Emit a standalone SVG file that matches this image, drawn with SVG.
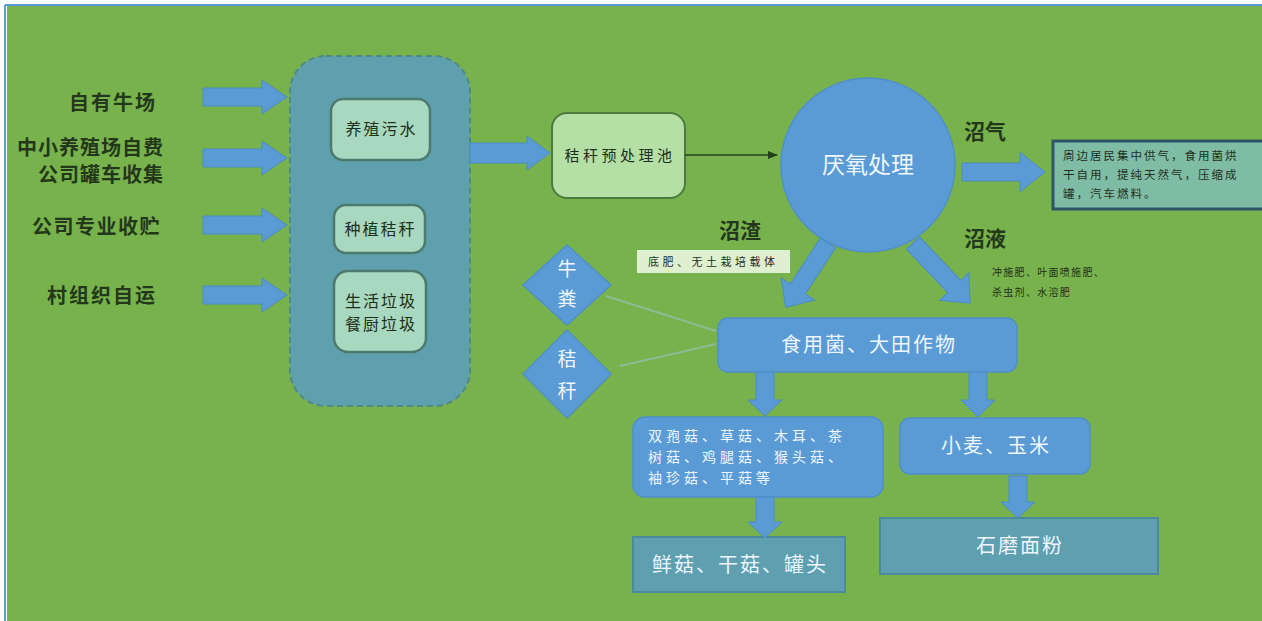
<svg xmlns="http://www.w3.org/2000/svg" width="1262" height="621" viewBox="0 0 1262 621">
<defs>
<style>
.lbl{font-family:"Noto Sans CJK SC","Noto Sans",sans-serif;fill:#23381a;font-weight:bold}
.wt{font-family:"Noto Sans CJK SC","Noto Sans",sans-serif;fill:#eef6ff}
.dk{font-family:"Noto Sans CJK SC","Noto Sans",sans-serif;fill:#1f2f1a}
.arr{fill:#5b9bd5;stroke:#4a8cc6;stroke-width:1}
.blue{fill:#5b9bd5;stroke:#4f8fcb;stroke-width:1.5}
.teal{fill:#5e9fb0;stroke:#4a8a9a;stroke-width:2}
.inner{fill:#a8d8c0;stroke:#4d7a6c;stroke-width:2.5}
</style>
<marker id="ah" markerWidth="10" markerHeight="10" refX="9" refY="5" orient="auto" markerUnits="userSpaceOnUse">
<path d="M0,1 L10,5 L0,9 Z" fill="#24401c"/>
</marker>
</defs>
<rect x="0" y="0" width="1262" height="621" fill="#ffffff"/>
<rect x="7" y="6" width="1255" height="615" fill="#78b24c"/>
<line x1="5" y1="5" x2="1262" y2="5" stroke="#5b9bd5" stroke-width="2"/>
<line x1="5" y1="5" x2="5" y2="621" stroke="#5b9bd5" stroke-width="2"/>

<g id="sources">
<text class="lbl" x="157" y="110" font-size="20" letter-spacing="2" text-anchor="end">自有牛场</text>
<text class="lbl" x="164" y="155" font-size="20" letter-spacing="1" text-anchor="end">中小养殖场自费</text>
<text class="lbl" x="164" y="182" font-size="20" letter-spacing="1" text-anchor="end">公司罐车收集</text>
<text class="lbl" x="161" y="234" font-size="20" letter-spacing="1.5" text-anchor="end">公司专业收贮</text>
<text class="lbl" x="157" y="303" font-size="20" letter-spacing="2" text-anchor="end">村组织自运</text>
</g>

<g id="collect">
<rect x="290" y="56" width="180" height="350" rx="36" fill="#5fa0ae" stroke="#4e8a86" stroke-width="2" stroke-dasharray="6 4"/>
<g id="n-wastewater">
<rect class="inner" x="331" y="99" width="99" height="61" rx="12"/>
<text class="dk" x="381.5" y="135" font-size="16" letter-spacing="2" text-anchor="middle">养殖污水</text>
</g>
<g id="n-straw">
<rect class="inner" x="334" y="205" width="91" height="48" rx="12"/>
<text class="dk" x="380.5" y="235" font-size="16" letter-spacing="2" text-anchor="middle">种植秸秆</text>
</g>
<g id="n-garbage">
<rect class="inner" x="334" y="271" width="92" height="81" rx="14"/>
<text class="dk" x="381" y="307" font-size="16" letter-spacing="2" text-anchor="middle">生活垃圾</text>
<text class="dk" x="381" y="330" font-size="16" letter-spacing="2" text-anchor="middle">餐厨垃圾</text>
</g>
</g>

<g id="n-pretreat">
<rect x="552" y="113" width="133" height="85" rx="15" fill="#b4e0a6" stroke="#4b7a3c" stroke-width="2"/>
<text class="dk" x="620" y="161" font-size="15" letter-spacing="3.5" text-anchor="middle">秸秆预处理池</text>
</g>

<g id="n-anaerobic">
<circle cx="868" cy="165" r="87" fill="#5b9bd5" stroke="#4f8fcb" stroke-width="1.5"/>
<text class="wt" x="868" y="173" font-size="23" text-anchor="middle">厌氧处理</text>
</g>

<g id="n-gas">
<rect x="1053" y="141" width="212" height="68" fill="#7fbca6" stroke="#2e5566" stroke-width="3"/>
<text class="dk" x="1063" y="160" font-size="11.5" letter-spacing="2">周边居民集中供气，食用菌烘</text>
<text class="dk" x="1063" y="179" font-size="11.5" letter-spacing="2">干自用，提纯天然气，压缩成</text>
<text class="dk" x="1063" y="198" font-size="11.5" letter-spacing="2">罐，汽车燃料。</text>
</g>

<g id="labels">
<text class="lbl" x="964" y="139" font-size="21">沼气</text>
<text class="lbl" x="719" y="238" font-size="21">沼渣</text>
<text class="lbl" x="964" y="246" font-size="21">沼液</text>
<rect x="637" y="250" width="153" height="23" fill="#dff0d0"/>
<text class="dk" x="648" y="266" font-size="11" letter-spacing="3.5">底肥、无土栽培载体</text>
<text class="dk" x="992" y="276" font-size="10" letter-spacing="1.3">冲施肥、叶面喷施肥、</text>
<text class="dk" x="992" y="296" font-size="10" letter-spacing="1.3">杀虫剂、水溶肥</text>
</g>

<g id="n-dung">
<polygon class="blue" points="567,245 611,285 567,325 523,285"/>
<text class="wt" x="567" y="276" font-size="19" text-anchor="middle">牛</text>
<text class="wt" x="567" y="306" font-size="19" text-anchor="middle">粪</text>
</g>
<g id="n-straw2">
<polygon class="blue" points="567,330 611,374 567,418 523,374"/>
<text class="wt" x="567" y="366" font-size="19" text-anchor="middle">秸</text>
<text class="wt" x="567" y="398" font-size="19" text-anchor="middle">秆</text>
</g>

<g id="n-crops">
<rect class="blue" x="718" y="318" width="299" height="54" rx="10"/>
<text class="wt" x="869" y="352" font-size="20" letter-spacing="2" text-anchor="middle">食用菌、大田作物</text>
</g>

<g id="n-mushrooms">
<rect class="blue" x="633" y="417" width="250" height="80" rx="12"/>
<text class="wt" x="648" y="441" font-size="14" letter-spacing="4">双孢菇、草菇、木耳、茶</text>
<text class="wt" x="648" y="462" font-size="14" letter-spacing="4">树菇、鸡腿菇、猴头菇、</text>
<text class="wt" x="648" y="483" font-size="14" letter-spacing="4">袖珍菇、平菇等</text>
</g>

<g id="n-wheat">
<rect class="blue" x="900" y="418" width="190" height="56" rx="10"/>
<text class="wt" x="996" y="453" font-size="20" letter-spacing="2" text-anchor="middle">小麦、玉米</text>
</g>

<g id="n-products">
<rect class="teal" x="633" y="537" width="212" height="55"/>
<text class="wt" x="740" y="572" font-size="20" letter-spacing="2" text-anchor="middle">鲜菇、干菇、罐头</text>
</g>

<g id="n-flour">
<rect class="teal" x="880" y="518" width="278" height="56"/>
<text class="wt" x="1020" y="553" font-size="20" letter-spacing="2" text-anchor="middle">石磨面粉</text>
</g>

<g id="connectors">
<polygon class="arr" points="203,88 262,88 262,80 287,97 262,114 262,106 203,106"/>
<polygon class="arr" points="203,149 262,149 262,141 287,158 262,175 262,167 203,167"/>
<polygon class="arr" points="203,216 262,216 262,208 287,225 262,242 262,234 203,234"/>
<polygon class="arr" points="203,286 262,286 262,278 287,295 262,312 262,304 203,304"/>
<polygon class="arr" points="470,143 527,143 527,136 550,153 527,170 527,163 470,163"/>
<line x1="685" y1="155" x2="777" y2="155" stroke="#24401c" stroke-width="1.5" marker-end="url(#ah)"/>
<polygon class="arr" points="962,163 1020,163 1020,152 1045,172 1020,192 1020,181 962,181"/>
<polygon class="arr" transform="translate(828,243) rotate(123.3)" points="0,-9 55,-9 55,-20 77,0 55,20 55,9 0,9"/>
<polygon class="arr" transform="translate(913,243) rotate(46.5)" points="0,-9 60,-9 60,-20 83,0 60,20 60,9 0,9"/>
<line x1="606" y1="296" x2="716" y2="331" stroke="#8fbfa8" stroke-width="2" opacity="0.8"/>
<line x1="620" y1="366" x2="716" y2="344" stroke="#8fbfa8" stroke-width="2" opacity="0.8"/>
<polygon class="arr" points="756,372 774,372 774,400 782,400 765,416 748,400 756,400"/>
<polygon class="arr" points="969,372 987,372 987,400 995,400 978,417 961,400 969,400"/>
<polygon class="arr" points="756,497 774,497 774,522 782,522 765,538 748,522 756,522"/>
<polygon class="arr" points="1009,476 1027,476 1027,502 1035,502 1018,518 1001,502 1009,502"/>
</g>
</svg>
